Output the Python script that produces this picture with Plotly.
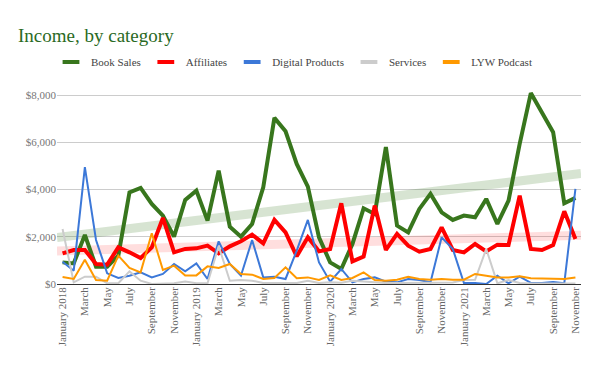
import numpy as np
import plotly.graph_objects as go

month_names = ["January", "February", "March", "April", "May", "June", "July",
               "August", "September", "October", "November", "December"]
months = []
for y in [2018, 2019, 2020, 2021]:
    for m in month_names:
        months.append(m + (" " + str(y) if m == "January" else ""))
months = months[:47]  # Jan 2018 .. Nov 2021

book_sales = [915, 873, 2080, 733, 733, 1200, 3880, 4067, 3390, 2894, 2004, 3560,
              3953, 2682, 4800, 2428, 2004, 2542, 4093, 7033, 6466, 5084, 4123, 1975,
              915, 636, 1695, 3203, 2966, 5800, 2470, 2186, 3178, 3813, 3034, 2712,
              2894, 2822, 3601, 2542, 3530, 5932, 8080, 7271, 6423, 3415, 3644]
affiliates = [1297, 1440, 1440, 847, 820, 1550, 1340, 1100, 1550, 2796, 1340, 1483,
              1510, 1623, 1300, 1594, 1806, 2089, 1721, 2712, 2186, 1170, 1975, 1382,
              1483, 3415, 958, 1157, 3318, 1440, 2118, 1623, 1369, 1483, 2398, 1440,
              1340, 1695, 1382, 1665, 1650, 3741, 1483, 1440, 1650, 3076, 1907]
digital = [945, 564, 4950, 1864, 450, 254, 352, 492, 280, 424, 847, 534,
           873, 212, 1806, 847, 352, 1864, 280, 310, 212, 1411, 2712, 915,
           100, 636, 70, 212, 280, 100, 70, 212, 170, 70, 1975, 1483,
           40, 40, 0, 352, 30, 310, 50, 40, 85, 30, 4025]
services = [2330, 70, 310, 310, 30, 30, 534, 140, 0, 0, 30, 110,
            30, 30, 1600, 140, 170, 140, 40, 40, 40, 40, 140, 40,
            70, 50, 140, 100, 50, 40, 40, 40, 40, 40, 60, 60,
            170, 180, 1483, 30, 170, 40, 20, 20, 20, 20, 20]
podcast = [297, 212, 1030, 170, 140, 1200, 678, 492, 2145, 593, 775, 364,
           364, 746, 678, 847, 424, 396, 212, 254, 707, 240, 280, 170,
           364, 170, 254, 492, 170, 140, 180, 310, 212, 180, 212, 180,
           180, 424, 352, 280, 280, 325, 240, 226, 226, 212, 280]

series_names = ["Book Sales", "Affiliates", "Digital Products", "Services", "LYW Podcast"]
series_values = [book_sales, affiliates, digital, services, podcast]
colors = ["#38761d", "#ff0000", "#3c78d8", "#cccccc", "#ff9900"]
widths = [4, 4, 2, 2, 2]

x = list(range(len(months)))
FONT = "Liberation Serif"

fig = go.Figure()

# linear trendlines (regression of the data) for Book Sales and Affiliates
for vals, col in [(book_sales, "rgba(56,118,29,0.2)"), (affiliates, "rgba(255,0,0,0.13)")]:
    k, b = np.polyfit(x, vals, 1)
    xt = [-0.5, len(x) - 0.5]
    fig.add_trace(go.Scatter(x=xt, y=[k * v + b for v in xt], mode="lines",
                             line=dict(color=col, width=9), showlegend=False,
                             hoverinfo="skip"))

for name, vals, col, w in zip(series_names, series_values, colors, widths):
    fig.add_trace(go.Scatter(x=x, y=vals, mode="lines", name=name,
                             line=dict(color=col, width=w), showlegend=False))

# legend entries: short thick bars like the reference
for name, col in zip(series_names, colors):
    fig.add_trace(go.Scatter(x=[None], y=[None], mode="markers", name=name,
                             marker=dict(symbol="line-ew", size=12,
                                         line=dict(color=col, width=4))))

tickvals = x[::2]
ticktext = [months[i] for i in tickvals]

fig.update_layout(
    width=600, height=371,
    margin=dict(l=57, r=19, t=92, b=87, autoexpand=False),
    paper_bgcolor="white", plot_bgcolor="white",
    font=dict(family=FONT, color="#444"),
    title=dict(text="Income, by category", x=18 / 600, xanchor="left", xref="container",
               y=1 - 35 / 371, yanchor="middle", yref="container",
               font=dict(family=FONT, size=19, color="#2a6a24")),
    legend=dict(orientation="h", xref="container", x=0.49, xanchor="center",
                yref="container", y=1 - 62 / 371, yanchor="middle",
                font=dict(family=FONT, size=11, color="#444"), itemwidth=30),
    showlegend=True,
)
fig.update_xaxes(range=[-0.5, len(x) - 0.5], tickmode="array", tickvals=tickvals,
                 ticktext=ticktext, tickangle=-90, showgrid=False, automargin=False,
                 tickfont=dict(family=FONT, size=11, color="#666"), ticks="",
                 showline=False, zeroline=False)
fig.update_yaxes(range=[0, 8127], tickvals=[0, 2000, 4000, 6000, 8000], automargin=False,
                 tickformat="$,.0f", showgrid=True, gridcolor="#cccccc", gridwidth=1,
                 zeroline=True, zerolinecolor="#333333", zerolinewidth=1,
                 tickfont=dict(family=FONT, size=11, color="#777"), ticks="")

fig.write_html("out.html", config={"displayModeBar": False},
               post_script="document.body.style.margin='0';")
